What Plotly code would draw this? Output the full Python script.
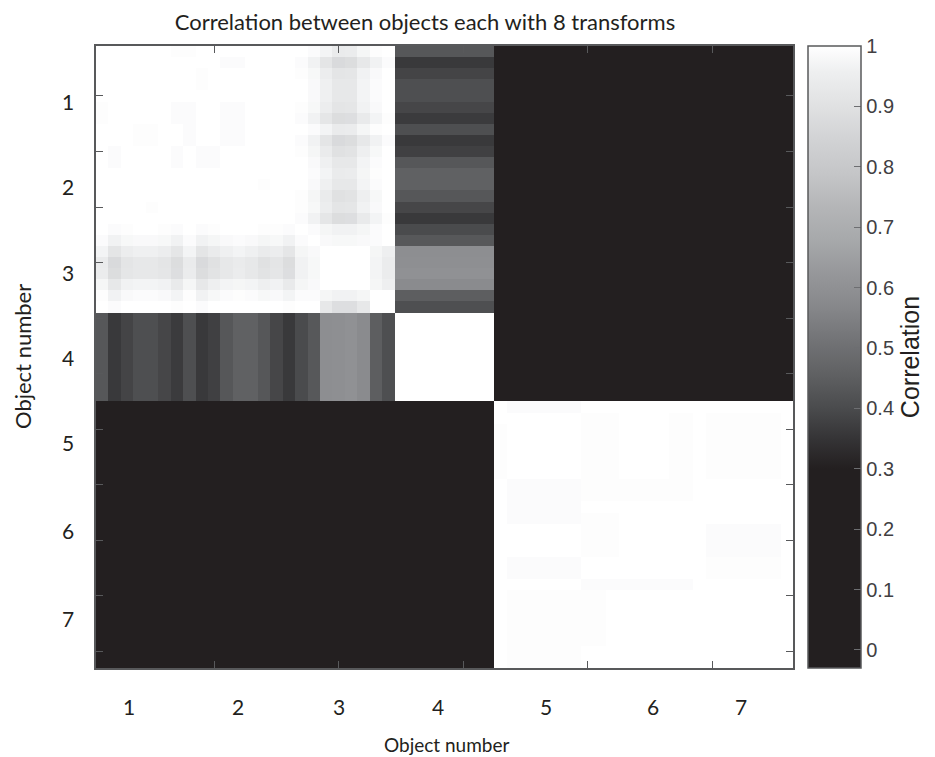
import numpy as np
import plotly.graph_objects as go

# ---------------- data ----------------
n_objects = 7
n_transforms = 8
object_labels = ["1", "2", "3", "4", "5", "6", "7"]
# positions (in cell units, 1..56) where the object labels are written
x_label_pos = [3.15, 11.91, 20.02, 27.98, 36.66, 45.25, 52.32]
y_label_pos = [5.54, 13.19, 20.85, 28.5, 36.24, 44.08, 52.0]

# objects 1-2 among themselves (16 x 16)
block_12 = [
    [1, 1, 1, 1, 1, 1, 0.995, 0.995, 1, 1, 1, 1, 1, 1, 1, 1],
    [1, 1, 1, 1, 1, 1, 1, 1, 1, 1, 0.99, 0.99, 1, 1, 1, 1],
    [1, 1, 1, 1, 1, 1, 1, 1, 0.995, 1, 1, 1, 1, 1, 1, 1],
    [1, 1, 1, 1, 1, 1, 1, 1, 0.995, 1, 1, 1, 1, 1, 1, 1],
    [1, 1, 1, 1, 1, 1, 1, 1, 1, 1, 1, 1, 1, 1, 1, 1],
    [0.995, 1, 1, 1, 1, 1, 0.99, 0.99, 1, 1, 0.99, 0.99, 1, 1, 1, 1],
    [0.995, 1, 1, 1, 1, 1, 0.99, 0.99, 1, 1, 0.99, 0.99, 1, 1, 1, 1],
    [1, 1, 1, 0.995, 0.995, 1, 1, 0.99, 1, 1, 0.99, 0.99, 1, 1, 1, 1],
    [1, 1, 1, 0.995, 0.995, 1, 1, 0.99, 1, 1, 0.99, 0.99, 1, 1, 1, 1],
    [1, 0.99, 1, 1, 1, 1, 0.99, 1, 0.99, 0.99, 1, 1, 1, 1, 1, 1],
    [1, 0.99, 1, 1, 1, 1, 0.99, 1, 0.99, 0.99, 1, 1, 1, 1, 1, 1],
    [1, 1, 1, 1, 1, 1, 1, 1, 1, 1, 1, 1, 1, 1, 1, 1],
    [1, 1, 1, 1, 1, 1, 1, 1, 1, 1, 1, 1, 1, 0.995, 1, 1],
    [1, 1, 1, 1, 1, 1, 1, 1, 1, 1, 1, 1, 1, 1, 1, 1],
    [1, 1, 1, 1, 0.995, 1, 1, 1, 1, 1, 1, 1, 1, 1, 1, 1],
    [1, 1, 1, 1, 1, 1, 1, 1, 1, 1, 1, 1, 1, 1, 1, 1],
]

# objects 1-2 (rows) vs the 8 transforms of object 3 (16 x 8)
cross_12_3 = [
    [1.0, 0.99, 0.97, 0.94, 0.945, 0.975, 0.995, 1.0],
    [0.99, 0.965, 0.915, 0.875, 0.885, 0.93, 0.965, 0.99],
    [0.995, 0.98, 0.95, 0.915, 0.92, 0.965, 0.985, 1.0],
    [1.0, 0.985, 0.96, 0.93, 0.93, 0.97, 0.99, 1.0],
    [1.0, 0.985, 0.96, 0.93, 0.93, 0.97, 0.99, 1.0],
    [0.995, 0.98, 0.95, 0.915, 0.92, 0.965, 0.985, 1.0],
    [0.99, 0.965, 0.92, 0.885, 0.89, 0.935, 0.97, 0.995],
    [1.0, 0.99, 0.97, 0.94, 0.945, 0.975, 0.995, 1.0],
    [0.99, 0.965, 0.915, 0.875, 0.885, 0.93, 0.965, 0.99],
    [0.995, 0.975, 0.94, 0.90, 0.91, 0.955, 0.98, 1.0],
    [1.0, 0.985, 0.96, 0.93, 0.93, 0.97, 0.99, 1.0],
    [1.0, 0.99, 0.97, 0.94, 0.945, 0.975, 0.995, 1.0],
    [1.0, 0.985, 0.96, 0.93, 0.93, 0.97, 0.99, 1.0],
    [0.995, 0.975, 0.94, 0.90, 0.91, 0.955, 0.98, 1.0],
    [0.995, 0.98, 0.95, 0.915, 0.92, 0.965, 0.985, 1.0],
    [0.99, 0.965, 0.92, 0.885, 0.89, 0.935, 0.97, 0.995],
]

# object 3 with itself (8 x 8)
block_3 = [
    [1, 0.99, 0.975, 0.965, 0.965, 0.975, 0.99, 1],
    [0.99, 1, 0.985, 0.98, 0.98, 0.985, 0.99, 1],
    [0.975, 0.985, 1, 1, 1, 1, 0.975, 0.955],
    [0.965, 0.98, 1, 1, 1, 1, 0.97, 0.945],
    [0.965, 0.98, 1, 1, 1, 1, 0.97, 0.945],
    [0.975, 0.985, 1, 1, 1, 1, 0.975, 0.955],
    [0.99, 0.99, 0.975, 0.965, 0.965, 0.975, 1, 1],
    [1, 1, 0.93, 0.89, 0.89, 0.93, 1, 1],
]

# object 4 vs each transform of objects 1-3 (24 values)
obj4_vs_123 = [0.43, 0.36, 0.385, 0.41, 0.41, 0.39, 0.365, 0.41,
               0.36, 0.375, 0.43, 0.457, 0.457, 0.43, 0.39, 0.36,
               0.40, 0.435, 0.59, 0.595, 0.60, 0.58, 0.45, 0.41]
obj4_self = 1.0
# objects 1-4 vs objects 5-7 (all in the flat dark part of the map)
obj1234_vs_567 = 0.1

# objects 5-7 among themselves (24 x 24)
r_a = [1] + [0.99] * 6 + [1] * 17
r_b = [1] * 7 + [0.995] * 3 + [1] * 4 + [0.995] * 2 + [1] + [0.995] * 6 + [1]
r_c = [0.995] + [1] * 6 + [0.995] * 3 + [1] * 4 + [0.995] * 2 + [1] + [0.995] * 6 + [1]
r_d = [1] + [0.99] * 6 + [0.995] * 9 + [1] * 8
r_e = [1] + [0.99] * 6 + [1] * 17
r_f = [1] + [0.99] * 6 + [0.995] * 3 + [1] * 14
r_g = [1] * 7 + [0.995] * 3 + [1] * 7 + [0.99] * 6 + [1]
r_h = [1] + [0.99] * 6 + [1] * 10 + [0.995] * 6 + [1]
r_i = [1] * 7 + [0.99] * 9 + [1] * 8
r_j = [1] + [0.995] * 8 + [1] * 15
r_k = [1] + [0.995] * 6 + [1] * 17
block_567 = [r_a, r_b, r_c, r_c, r_c, r_c, r_c, r_d, r_d, r_e, r_f,
             r_g, r_g, r_g, r_h, r_h, r_i, r_j, r_j, r_j, r_j, r_j, r_k, r_k]

# ---------------- assemble the 56 x 56 matrix ----------------
N = n_objects * n_transforms
M = np.full((N, N), obj1234_vs_567, dtype=float)
M[0:16, 0:16] = np.array(block_12)
C = np.array(cross_12_3)
M[0:16, 16:24] = C
M[16:24, 0:16] = C.T
M[16:24, 16:24] = np.array(block_3)
s = np.array(obj4_vs_123)
M[0:24, 24:32] = s[:, None]
M[24:32, 0:24] = s[None, :]
M[24:32, 24:32] = obj4_self
M[32:56, 32:56] = np.array(block_567)

cells = list(range(1, N + 1))

cmin, cmax = -0.03, 1.0
stops = [(-0.03, "#231f20"), (0.30, "#231f20"), (0.35, "#353436"),
         (0.40, "#4a4b4d"), (0.46, "#616264"), (0.515, "#737477"),
         (0.57, "#87888b"), (0.626, "#97989b"), (0.68, "#a7a9ab"),
         (0.736, "#b5b6b8"), (0.79, "#c5c6c8"), (0.847, "#d2d3d5"),
         (0.90, "#e0e1e2"), (0.957, "#eeeff0"), (1.0, "#ffffff")]
colorscale = [[(v - cmin) / (cmax - cmin), c] for v, c in stops]

axis_font = "Lato, 'Open Sans', sans-serif"
cb_font = "'Liberation Sans', Arial, sans-serif"
text_color = "#231f20"
frame_color = "#58595b"

fig = go.Figure(go.Heatmap(
    z=M, x=cells, y=cells, zmin=cmin, zmax=cmax, colorscale=colorscale,
    zsmooth=False,
    colorbar=dict(
        x=1.0215, xanchor="left", xref="paper", xpad=0,
        y=0.5, yanchor="middle", len=1.0, lenmode="fraction", ypad=0,
        thickness=53, outlinewidth=1.5, outlinecolor=frame_color,
        tickmode="array", tickvals=[i / 10 for i in range(11)],
        ticktext=["0", "0.1", "0.2", "0.3", "0.4", "0.5", "0.6", "0.7", "0.8", "0.9", "1"],
        ticks="inside", ticklen=7, tickcolor="#6d6e71", tickwidth=1,
        tickfont=dict(family=cb_font, size=20, color="#414042"),
        title=dict(text="Correlation", side="right",
                   font=dict(family=cb_font, size=25, color=text_color)),
    ),
))

fig.update_xaxes(range=[0.5, N + 0.5], tickvals=[10, 20, 30, 40, 50],
                 showticklabels=False, ticks="inside", ticklen=7,
                 tickcolor=frame_color, tickwidth=1.2,
                 showline=True, linecolor=frame_color, linewidth=1.5,
                 mirror="ticks", showgrid=False, zeroline=False)
fig.update_yaxes(range=[N + 0.5, 0.5], tickvals=[5, 10, 15, 20, 25, 30, 35, 40, 45, 50, 55],
                 showticklabels=False, ticks="inside", ticklen=7,
                 tickcolor=frame_color, tickwidth=1.2,
                 showline=True, linecolor=frame_color, linewidth=1.5,
                 mirror="ticks", showgrid=False, zeroline=False)

ann = []
for lab, xp in zip(object_labels, x_label_pos):
    ann.append(dict(text=lab, x=xp, xref="x", y=0, yref="paper", yshift=-38,
                    showarrow=False, xanchor="center", yanchor="middle",
                    font=dict(family=axis_font, size=21, color=text_color)))
for lab, yp in zip(object_labels, y_label_pos):
    ann.append(dict(text=lab, y=yp, yref="y", x=0, xref="paper", xshift=-28,
                    showarrow=False, xanchor="center", yanchor="middle",
                    font=dict(family=axis_font, size=21, color=text_color)))
ann.append(dict(text="Object number", x=0.5036, xref="paper", y=0, yref="paper",
                yshift=-76, showarrow=False, xanchor="center", yanchor="middle",
                font=dict(family=axis_font, size=19, color=text_color)))
ann.append(dict(text="Object number", x=0, xref="paper", xshift=-74, y=0.5, yref="paper",
                textangle=-90, showarrow=False, xanchor="center", yanchor="middle",
                font=dict(family=axis_font, size=22, color=text_color)))

# the page body adds an 8 px offset, so the margins are reduced by 8 px
fig.update_layout(
    width=935, height=757,
    margin=dict(l=88, r=150, t=38, b=97),
    plot_bgcolor="white", paper_bgcolor="white",
    title=dict(text="Correlation between objects each with 8 transforms",
               x=0.472, xref="paper", xanchor="center",
               y=1 - 14 / 757, yref="container", yanchor="middle",
               font=dict(family=axis_font, size=22, color=text_color)),
    annotations=ann,
)

fig.write_html("out.html")
